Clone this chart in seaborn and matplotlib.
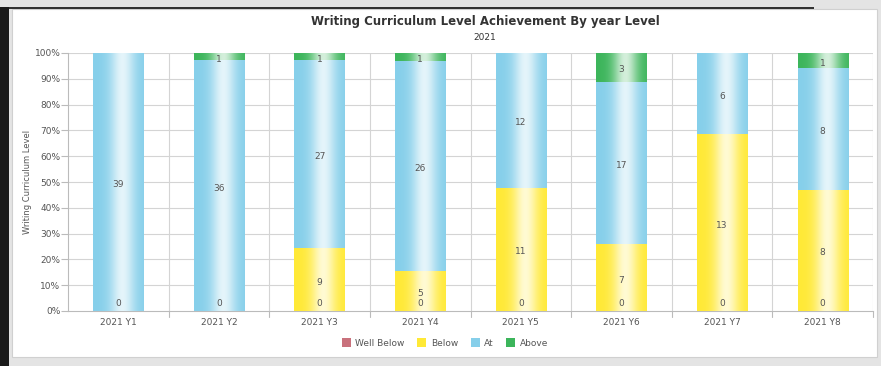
import numpy as np
import pandas as pd
import matplotlib
matplotlib.use("Agg")
import matplotlib.pyplot as plt
import matplotlib.colors as mcolors
from matplotlib.patches import Rectangle
import seaborn as sns

categories = ["2021 Y1", "2021 Y2", "2021 Y3", "2021 Y4", "2021 Y5", "2021 Y6", "2021 Y7", "2021 Y8"]
well_below = [0, 0, 0, 0, 0, 0, 0, 0]
below = [0, 0, 9, 5, 11, 7, 13, 8]
at = [39, 36, 27, 26, 12, 17, 6, 8]
above = [0, 1, 1, 1, 0, 3, 0, 1]
series_names = ["Well Below", "Below", "At", "Above"]
series_colors = ["#c9717c", "#ffe936", "#86cfea", "#3cb55b"]
y_ticks = [0, 10, 20, 30, 40, 50, 60, 70, 80, 90, 100]

sns.set_theme(style="white")
plt.rcParams['font.family'] = ['DejaVu Sans']

fig = plt.figure(figsize=(8.81, 3.66), dpi=100)
fig.patch.set_facecolor("#e4e4e4")
# white panel
fig.add_artist(Rectangle((12/881, 1-357/366), (877-12)/881, (357-9)/366, transform=fig.transFigure,
                         facecolor="white", edgecolor="#d0d0d0", lw=0.8, zorder=0))
fig.add_artist(Rectangle((0, 0), 9/881, 1-7/366, transform=fig.transFigure,
                         facecolor="#1a1a1a", edgecolor="none", zorder=1))
fig.add_artist(Rectangle((9/881, 1-9/366), 805/881, 2/366, transform=fig.transFigure,
                         facecolor="#333333", edgecolor="none", zorder=1))

ax = fig.add_axes([68/881, 1-311/366, (873-68)/881, (311-53)/366])
ax.set_facecolor("white")

series = [well_below, below, at, above]
totals = np.sum(np.array(series), axis=0)
rows = []
for name, vals in zip(series_names, series):
    for c, v, t in zip(categories, vals, totals):
        rows.append({"cat": c, "series": name, "count": v, "pct": 100.0 * v / t})
df = pd.DataFrame(rows)

bottom = np.zeros(len(categories))
white = np.array([1.0, 1.0, 1.0])
t = np.linspace(0, 1, 200)
f = 0.78 * np.exp(-((t - 0.58) / 0.24) ** 2)
for name, color in zip(series_names, series_colors):
    sub = df[df["series"] == name].set_index("cat").loc[categories].reset_index()
    n_before = len(ax.patches)
    sns.barplot(data=sub, x="cat", y="pct", color=color, bottom=bottom, width=0.5,
                ax=ax, saturation=1, linewidth=0, zorder=3, order=categories)
    new_patches = ax.patches[n_before:]
    base = np.array(mcolors.to_rgb(color))
    rgb = base[None, :] * (1 - f[:, None]) + white[None, :] * f[:, None]
    for p, cnt in zip(new_patches, sub["count"]):
        x0, y0, w, h = p.get_x(), p.get_y(), p.get_width(), p.get_height()
        if h > 0:
            ax.imshow(rgb[None, :, :], extent=[x0, x0 + w, y0, y0 + h], aspect="auto",
                      zorder=3.5, interpolation="bilinear")
        if name == "Well Below":
            ax.text(x0 + w / 2, y0 + 1.2, f"{cnt}", ha="center", va="bottom",
                    fontsize=6.5, color="#555555", zorder=5)
        elif cnt > 0:
            ax.text(x0 + w / 2, y0 + h / 2 - 1.0, f"{cnt}", ha="center", va="center",
                    fontsize=6.5, color="#555555", zorder=5)
    bottom = bottom + sub["pct"].values

ax.set_xlim(-0.5, len(categories) - 0.5)
ax.set_ylim(0, 100)
ax.set_yticks(y_ticks)
ax.set_yticklabels([f"{v}%" for v in y_ticks], fontsize=6.5, color="#555555")
ax.set_xticks(range(len(categories)))
ax.set_xticklabels(categories, fontsize=6.5, color="#555555")
ax.set_xlabel("")
ax.set_ylabel("Writing Curriculum Level", fontsize=6, color="#555555", labelpad=2)
for v in y_ticks[1:]:
    ax.axhline(v, color="#d4d4d4", lw=0.8, zorder=1)
for b in np.arange(0.5, len(categories) - 0.5, 1):
    ax.axvline(b, color="#d4d4d4", lw=0.8, zorder=1)
ax.axvline(len(categories) - 0.5, color="#d4d4d4", lw=0.8, zorder=1)
for s in ["top", "right"]:
    ax.spines[s].set_visible(False)
ax.spines["left"].set_color("#bbbbbb")
ax.spines["bottom"].set_color("#bbbbbb")
ax.spines["left"].set_linewidth(0.8)
ax.spines["bottom"].set_linewidth(0.8)
ax.tick_params(axis="y", length=5, color="#bbbbbb", width=0.8, pad=0.5, left=True)
ax.tick_params(axis="x", length=0, pad=5)
for b in np.arange(0.5, len(categories), 1):
    ax.plot([b, b], [0, -2.5], color="#bbbbbb", lw=0.8, clip_on=False, zorder=2)

fig.text(485/881, 1-21/366, "Writing Curriculum Level Achievement By year Level",
         ha="center", va="center", fontsize=8.5, fontweight="bold", color="#333333")
fig.text(485/881, 1-38/366, "2021", ha="center", va="center", fontsize=6.5, color="#333333")

handles = [Rectangle((0, 0), 1, 1, facecolor=c, edgecolor="none") for c in series_colors]
fig.legend(handles, series_names, loc="center", bbox_to_anchor=(445/881, 1-343/366), ncol=4,
           frameon=False, fontsize=6.5, handlelength=1.0, handleheight=1.0, handletextpad=0.5,
           columnspacing=1.4, labelcolor="#555555")

fig.savefig("out.png", dpi=100, facecolor=fig.get_facecolor())
